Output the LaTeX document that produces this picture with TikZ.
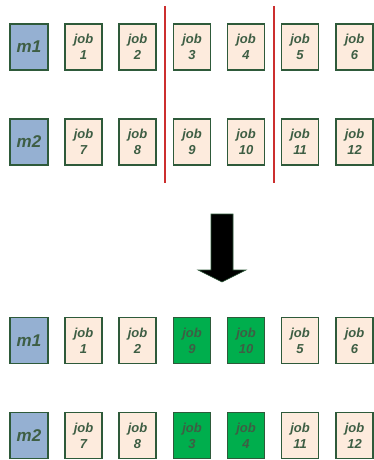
\documentclass[tikz,border=0pt]{standalone}
\usepackage{fontspec}
\setmainfont{Liberation Sans}
\definecolor{boxline}{HTML}{2E5A3A}
\definecolor{txt}{HTML}{3E5E44}
\definecolor{mfill}{HTML}{95B0D2}
\definecolor{jfill}{HTML}{FDEBDD}
\definecolor{gfill}{HTML}{00AE4D}
\definecolor{redline}{HTML}{CC2F2F}
\tikzset{
  mbox/.style={draw=boxline, line width=1.4pt, fill=mfill, minimum width=38pt, minimum height=46pt, inner sep=0pt,
    font=\fontsize{17pt}{18pt}\selectfont\bfseries\itshape, text=txt},
  jbox/.style={draw=boxline, line width=1.4pt, fill=jfill, minimum width=37pt, minimum height=46pt, inner sep=0pt,
    align=center, font=\fontsize{13pt}{16pt}\selectfont\bfseries\itshape, text=txt},
  gbox/.style={jbox, fill=gfill},
  sep/.style={draw=redline, line width=2.2pt},
}
\begin{document}
\begin{tikzpicture}[x=1pt,y=-1pt]
\useasboundingbox (0,0) rectangle (373,460);
% top
\node[mbox] (tm1) at (29,47) {m1};
\node[mbox] (tm2) at (29,142) {m2};
\node[jbox] (t1) at (83.5,47) {job\\1};
\node[jbox] (t2) at (137.5,47) {job\\2};
\node[jbox] (t3) at (192,47) {job\\3};
\node[jbox] (t4) at (246,47) {job\\4};
\node[jbox] (t5) at (300,47) {job\\5};
\node[jbox] (t6) at (354.5,47) {job\\6};
\node[jbox] (t7) at (83.5,142) {job\\7};
\node[jbox] (t8) at (137.5,142) {job\\8};
\node[jbox] (t9) at (192,142) {job\\9};
\node[jbox] (t10) at (246,142) {job\\10};
\node[jbox] (t11) at (300,142) {job\\11};
\node[jbox] (t12) at (354.5,142) {job\\12};
\coordinate (r1a) at (165,6);
\coordinate (r1b) at (165,183);
\coordinate (r2a) at (274,6);
\coordinate (r2b) at (274,183);
\draw[sep] (r1a) -- (r1b);
\draw[sep] (r2a) -- (r2b);
% arrow
\fill[black, draw=boxline, line width=0.6pt] (211,214) -- (233,214) -- (233,270) -- (246,270) -- (222,282) -- (198,270) -- (211,270) -- cycle;
% bottom
\node[mbox] (bm1) at (29,340.5) {m1};
\node[mbox] (bm2) at (29,435.5) {m2};
\node[jbox] (b1) at (83.5,340.5) {job\\1};
\node[jbox] (b2) at (137.5,340.5) {job\\2};
\node[gbox] (b9) at (192,340.5) {job\\9};
\node[gbox] (b10) at (246,340.5) {job\\10};
\node[jbox] (b5) at (300,340.5) {job\\5};
\node[jbox] (b6) at (354.5,340.5) {job\\6};
\node[jbox] (b7) at (83.5,435.5) {job\\7};
\node[jbox] (b8) at (137.5,435.5) {job\\8};
\node[gbox] (b3) at (192,435.5) {job\\3};
\node[gbox] (b4) at (246,435.5) {job\\4};
\node[jbox] (b11) at (300,435.5) {job\\11};
\node[jbox] (b12) at (354.5,435.5) {job\\12};
\end{tikzpicture}
\end{document}
